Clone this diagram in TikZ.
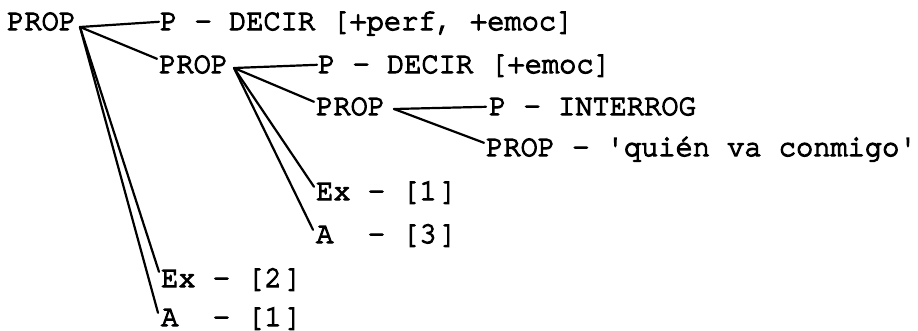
\documentclass[tikz,border=0pt]{standalone}
\usepackage{fontspec}
\newfontfamily\tw{texgyrecursor-regular.otf}[FakeBold=4,FakeStretch=0.95]
\begin{document}
\begin{tikzpicture}[x=1pt,y=-1pt,
  lbl/.style={anchor=base west,inner sep=0pt,font=\tw\fontsize{30.2}{32}\selectfont,text height=16pt,text depth=4pt},
  br/.style={line width=2.2pt,line cap=round}]
\useasboundingbox (0,0) rectangle (918,330);
% nodes
\node[lbl] (root) at (7,30) {PROP};
\node[lbl] (n1) at (160,30) {P - DECIR [+perf, +emoc]};
\node[lbl] (p2) at (159,73) {PROP};
\node[lbl] (n2) at (318,73) {P - DECIR [+emoc]};
\node[lbl] (p3) at (316,115) {PROP};
\node[lbl] (n3) at (489,115) {P - INTERROG};
\node[lbl] (p4) at (486,156) {PROP - 'quién va conmigo'};
\node[lbl] (e1) at (316,200) {Ex - [1\kern3pt]};
\node[lbl] (a3) at (316,243) {A\ \ - [3\kern3pt]};
\node[lbl] (e2) at (161,287) {Ex - [2\kern3pt]};
\node[lbl] (a1) at (161,326) {A\ \ - [1\kern3pt]};
% junctions
\coordinate (j1) at (80,27);
\coordinate (j2) at (234,68);
\coordinate (j3) at (394,109);
% connectors
\draw[br] (j1) -- ([xshift=-1pt,yshift=-8pt]n1.north west);
\draw[br] (j1) -- ([xshift=-2pt,yshift=-2pt]p2.north west);
\draw[br] (j1) -- ([xshift=-2pt,yshift=-1pt]e2.north west);
\draw[br] (j1) -- ([xshift=-3pt,yshift=-3pt]a1.north west);
\draw[br] (j2) -- ([xshift=-1pt,yshift=-8pt]n2.north west);
\draw[br] (j2) -- ([xshift=-2pt,yshift=-3pt]p3.north west);
\draw[br] (j2) -- ([xshift=-2pt,yshift=-3pt]e1.north west);
\draw[br] (j2) -- ([xshift=-3pt,yshift=-3pt]a3.north west);
\draw[br] (j3) -- ([xshift=-3pt,yshift=-8pt]n3.north west);
\draw[br] (j3) -- ([xshift=-2pt,yshift=-3pt]p4.north west);
\end{tikzpicture}
\end{document}
